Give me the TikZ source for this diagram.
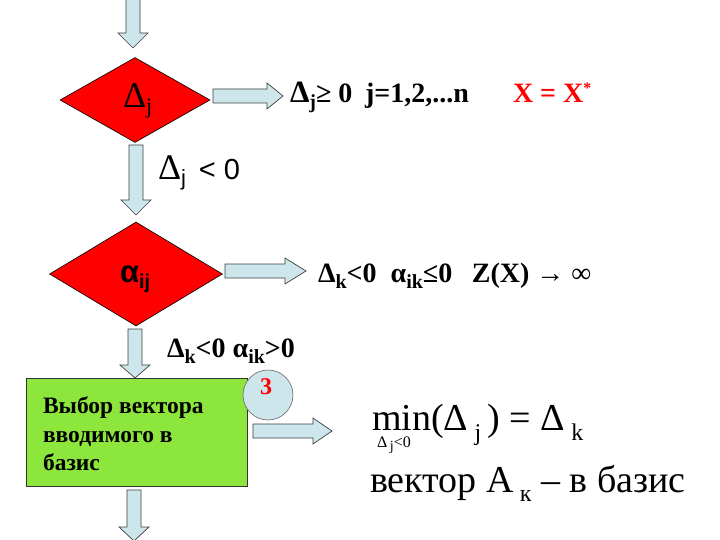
\documentclass[tikz,border=0pt]{standalone}
\usepackage{fontspec}
\setmainfont{Liberation Serif}
\setsansfont{Liberation Sans}
\usetikzlibrary{shapes.geometric}
\definecolor{arrblue}{RGB}{204,230,236}
\definecolor{limeg}{RGB}{140,230,60}
\newcommand\lo[3][6pt]{\raisebox{-#1}{\fontsize{#2}{#2}\selectfont #3}}
\newcommand\darrow[4]{\draw[blk] ({#1-7},#2) -- ({#1+7},#2) -- ({#1+7},#3) -- ({#1+15},#3) -- (#1,#4) -- ({#1-15},#3) -- ({#1-7},#3) -- cycle;}
\newcommand\rarrow[4]{\draw[blk] (#2,{#1-7}) -- (#3,{#1-7}) -- (#3,{#1-13}) -- (#4,#1) -- (#3,{#1+13}) -- (#3,{#1+7}) -- (#2,{#1+7}) -- cycle;}
\tikzset{
  blk/.style={fill=arrblue, draw=black!75, line width=0.7pt, line join=miter},
  dec/.style={diamond, draw=black, fill=red, line width=0.6pt, inner sep=0pt},
  txt/.style={anchor=base west, inner sep=0pt, outer sep=0pt},
}
\begin{document}
\begin{tikzpicture}[x=1pt, y=-1pt]
\useasboundingbox (0,0) rectangle (720,540);
\fill[white] (0,0) rectangle (720,540);
% arrows down
\darrow{133}{-2}{33}{48}
\darrow{136}{145}{200}{215}
\darrow{135}{329}{365}{378}
\darrow{134}{490}{527}{541}
% diamonds
\node[dec, minimum width=150pt, minimum height=85pt] (d1) at (135,100) {};
\node[txt] (d1t) at (123,108) {\fontsize{36}{36}\selectfont Δ\lo{22}{j}};
\node[dec, minimum width=173pt, minimum height=104pt] (d2) at (136,274) {};
\node[txt] (d2t) at (120,282) {\sffamily\bfseries\fontsize{31}{31}\selectfont α\lo{20}{ij}};
% right arrows
\rarrow{96}{213}{267}{283}
\rarrow{271}{225}{285}{306}
% texts
\node[txt] (t1) at (290,103) {\bfseries\fontsize{28}{30}\selectfont {\fontsize{31}{31}\selectfont Δ}\lo{20}{j}≥ 0\hspace{0.45em}j=1,2,...n};
\node[txt] (t1x) at (513,103) {\color{red}\bfseries\fontsize{28}{30}\selectfont X = X\raisebox{9pt}{\fontsize{16}{16}\selectfont *}};
\node[txt] (t2) at (158,180) {{\fontsize{36}{36}\selectfont Δ}\lo{22}{\sffamily j}\sffamily\fontsize{29}{30}\selectfont\ \,< 0};
\node[txt] (t3) at (318,282) {\bfseries\fontsize{28}{30}\selectfont Δ\lo{20}{k}<0\hspace{0.5em}α\lo{20}{ik}≤0\hspace{0.7em}Z(X) {\mdseries → ∞}};
\node[txt] (t4) at (167,357) {\bfseries\fontsize{28}{30}\selectfont Δ\lo{20}{k}<0 α\lo{20}{ik}>0};
% green box
\node[draw=black!80, fill=limeg, line width=0.6pt, minimum width=221pt, minimum height=108pt, inner sep=0pt] (box) at (136.5,432) {};
\node[txt] (b1) at (43,413) {\bfseries\fontsize{23.5}{24}\selectfont Выбор вектора};
\node[txt] (b2) at (43,442) {\bfseries\fontsize{23.5}{24}\selectfont вводимого в};
\node[txt] (b3) at (43,470) {\bfseries\fontsize{23.5}{24}\selectfont базис};
\node[circle, draw=black!60, fill=arrblue, line width=0.6pt, minimum size=50pt, inner sep=0pt] (c3) at (268,395) {};
\node[inner sep=0pt] (c3t) at (266,387) {\color{red}\bfseries\fontsize{24}{24}\selectfont 3};
\rarrow{431}{253}{313}{332}
% formula
\node[txt] (f1) at (372,430) {\fontsize{38}{40}\selectfont min(Δ\,\lo[10pt]{24}{j}\,) = Δ\,\lo[10pt]{24}{k}};
\node[txt] (f1s) at (377,447) {\fontsize{16}{16}\selectfont Δ\,\lo[3pt]{14}{j}<0};
\node[txt] (f2) at (370,492) {\fontsize{38}{40}\selectfont вектор A\,\lo[9pt]{24}{к} – в базис};
\end{tikzpicture}
\end{document}
